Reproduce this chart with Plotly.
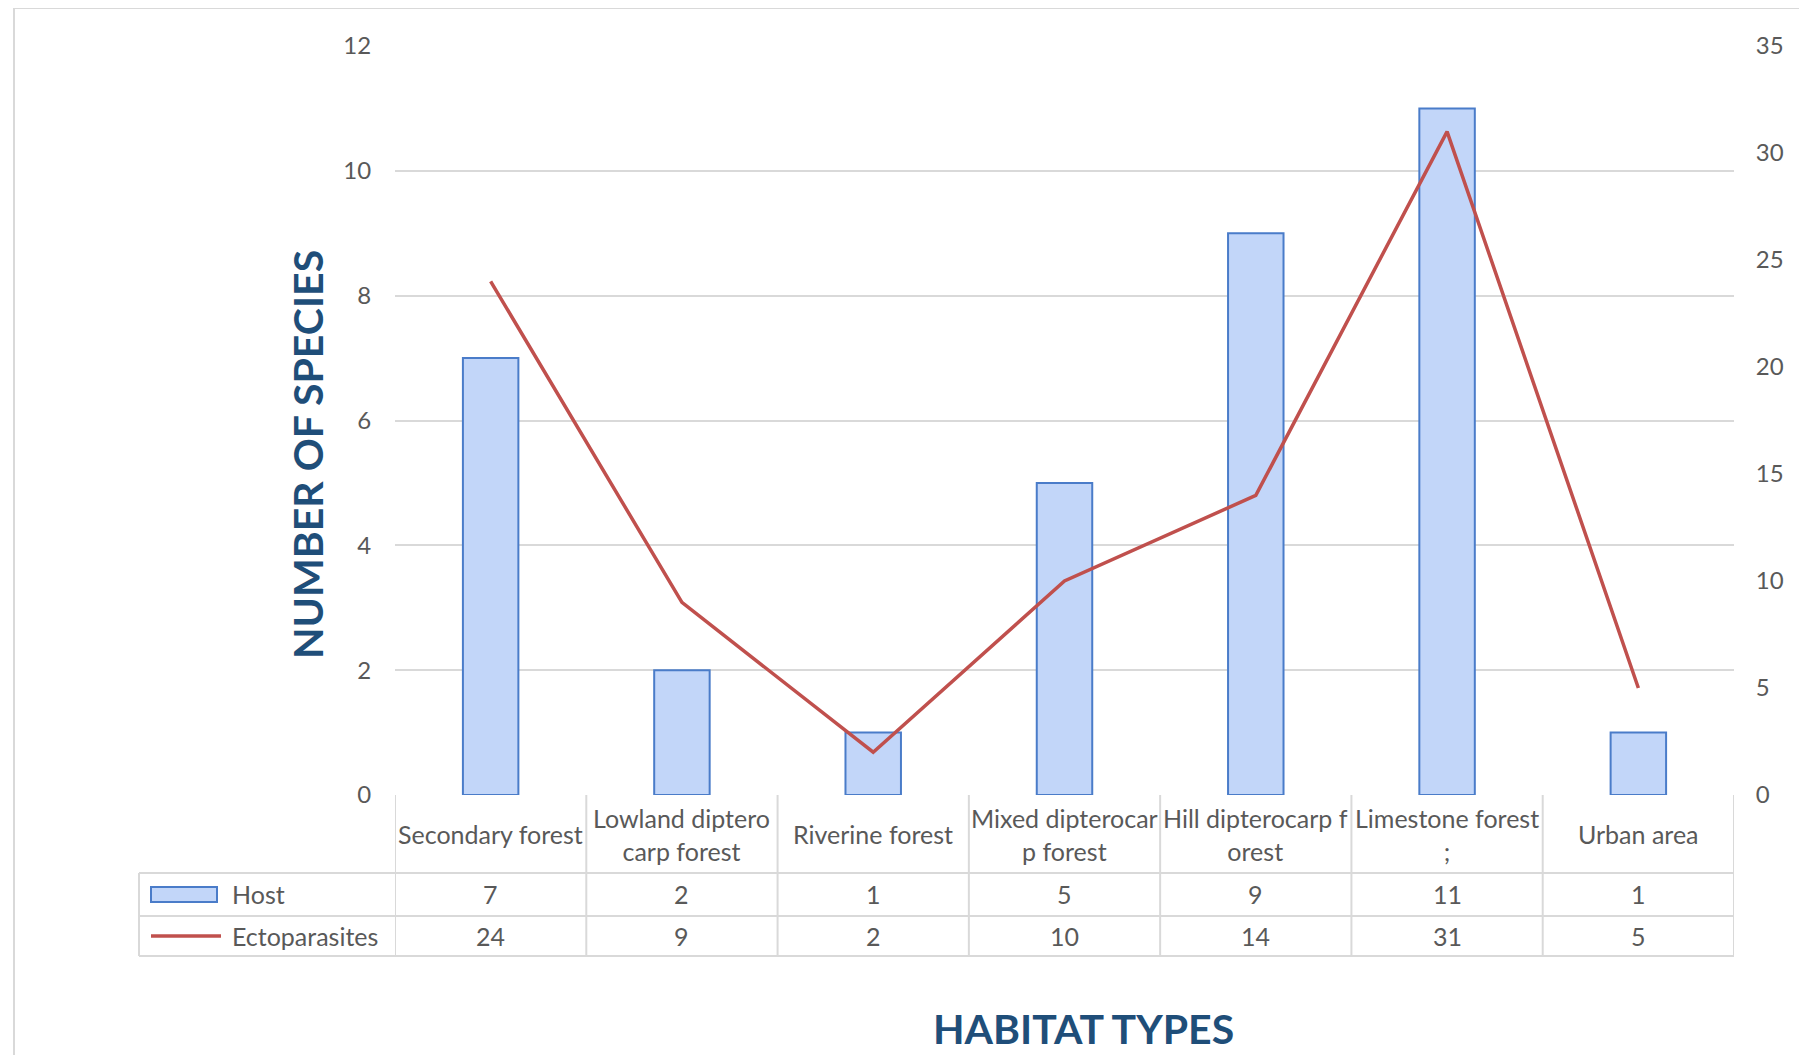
import plotly.graph_objects as go

categories = ["Secondary forest", "Lowland diptero<br>carp forest", "Riverine forest",
              "Mixed dipterocar<br>p forest", "Hill dipterocarp f<br>orest",
              "Limestone forest<br>;", "Urban area"]
host = [7, 2, 1, 5, 9, 11, 1]
ectoparasites = [24, 9, 2, 10, 14, 31, 5]
left_ticks = [0, 2, 4, 6, 8, 10, 12]
right_ticks = [0, 5, 10, 15, 20, 25, 30, 35]

OFF = 8  # default page body margin
W, H = 1807 - 2 * OFF, 1063 - 2 * OFF
L, R, T, B = 395 - OFF, 1734 - OFF, 46 - OFF, 795 - OFF
FONT = "Lato, 'Open Sans', sans-serif"
GRAY = "#595959"
GRID = "#d9d9d9"
TITLE_BLUE = "#1f4e79"
BAR_FILL = "#c2d6f9"
BAR_LINE = "#4a7cc9"
RED = "#c0504d"
FS = 25


def px(x):
    return (x - OFF - L) / (R - L)


def py(y):
    return (B - (y - OFF)) / (B - T)


n = len(categories)
xs = list(range(n))

fig = go.Figure()
fig.add_trace(go.Bar(
    x=xs, y=host, name="Host", width=0.29,
    marker=dict(color=BAR_FILL, line=dict(color=BAR_LINE, width=2)),
    showlegend=False))
fig.add_trace(go.Scatter(
    x=xs, y=ectoparasites, name="Ectoparasites", yaxis="y2", mode="lines",
    line=dict(color=RED, width=3.5), showlegend=False))

shapes = []
line_style = dict(color=GRID, width=2)
# outer chart border
shapes.append(dict(type="line", xref="paper", yref="paper", x0=px(14), x1=px(1830),
                   y0=py(8), y1=py(8), line=dict(color="#d9d9d9", width=2), layer="below"))
shapes.append(dict(type="line", xref="paper", yref="paper", x0=px(14), x1=px(14),
                   y0=py(8), y1=py(1090), line=dict(color="#d9d9d9", width=2), layer="below"))
# data table lines
row_lines = [873, 916, 956]
for yy in row_lines:
    shapes.append(dict(type="line", xref="paper", yref="paper", x0=px(139), x1=1,
                       y0=py(yy), y1=py(yy), line=line_style))
for i in range(n + 1):
    shapes.append(dict(type="line", xref="x", yref="paper", x0=i - 0.5, x1=i - 0.5,
                       y0=0, y1=py(956), line=line_style))
shapes.append(dict(type="line", xref="paper", yref="paper", x0=px(139), x1=px(139),
                   y0=py(873), y1=py(956), line=line_style))
# legend keys
shapes.append(dict(type="rect", xref="paper", yref="paper", x0=px(151), x1=px(217),
                   y0=py(902), y1=py(887), fillcolor=BAR_FILL,
                   line=dict(color=BAR_LINE, width=2)))
shapes.append(dict(type="line", xref="paper", yref="paper", x0=px(151), x1=px(221),
                   y0=py(936), y1=py(936), line=dict(color=RED, width=3.5)))

annotations = []
cell_font = dict(family=FONT, size=FS, color=GRAY)
for i, c in enumerate(categories):
    annotations.append(dict(x=i, y=py(834), xref="x", yref="paper", text=c, showarrow=False,
                            font=cell_font, xanchor="center", yanchor="middle"))
    annotations.append(dict(x=i, y=py(894), xref="x", yref="paper", text=str(host[i]),
                            showarrow=False, font=cell_font, xanchor="center", yanchor="middle"))
    annotations.append(dict(x=i, y=py(936), xref="x", yref="paper", text=str(ectoparasites[i]),
                            showarrow=False, font=cell_font, xanchor="center", yanchor="middle"))
annotations.append(dict(x=px(230), y=py(894), xref="paper", yref="paper", text="Host",
                        showarrow=False, font=cell_font, xanchor="left", yanchor="middle"))
annotations.append(dict(x=px(230), y=py(936), xref="paper", yref="paper", text="Ectoparasites",
                        showarrow=False, font=cell_font, xanchor="left", yanchor="middle"))
annotations.append(dict(x=px(1083), y=py(1028), xref="paper", yref="paper",
                        text="<b>HABITAT TYPES</b>", showarrow=False,
                        font=dict(family=FONT, size=41, color=TITLE_BLUE),
                        xanchor="center", yanchor="middle"))
annotations.append(dict(x=px(307), y=py(455), xref="paper", yref="paper",
                        text="<b>NUMBER OF SPECIES</b>", showarrow=False, textangle=-90,
                        font=dict(family=FONT, size=41, color=TITLE_BLUE),
                        xanchor="center", yanchor="middle"))

fig.update_layout(
    width=W, height=H,
    margin=dict(l=L, r=W - R, t=T, b=H - B, autoexpand=False),
    paper_bgcolor="white", plot_bgcolor="white",
    font=dict(family=FONT, size=FS, color=GRAY),
    xaxis=dict(range=[-0.5, n - 0.5], tickvals=xs, showticklabels=False,
               showgrid=False, zeroline=False, showline=False, fixedrange=True),
    yaxis=dict(range=[0, 12], tickvals=left_ticks, showgrid=True, gridcolor=GRID, gridwidth=2,
               zeroline=False, showline=False, ticks="outside", ticklen=0,
               ticklabelstandoff=18, tickfont=dict(family=FONT, size=24, color=GRAY)),
    yaxis2=dict(range=[0, 35], tickvals=right_ticks, overlaying="y", side="right",
                showgrid=False, zeroline=False, showline=False, ticks="outside", ticklen=0,
                ticklabelstandoff=16, tickfont=dict(family=FONT, size=24, color=GRAY)),
    shapes=shapes, annotations=annotations, bargap=0.71,
)

fig.write_html("out.html")
